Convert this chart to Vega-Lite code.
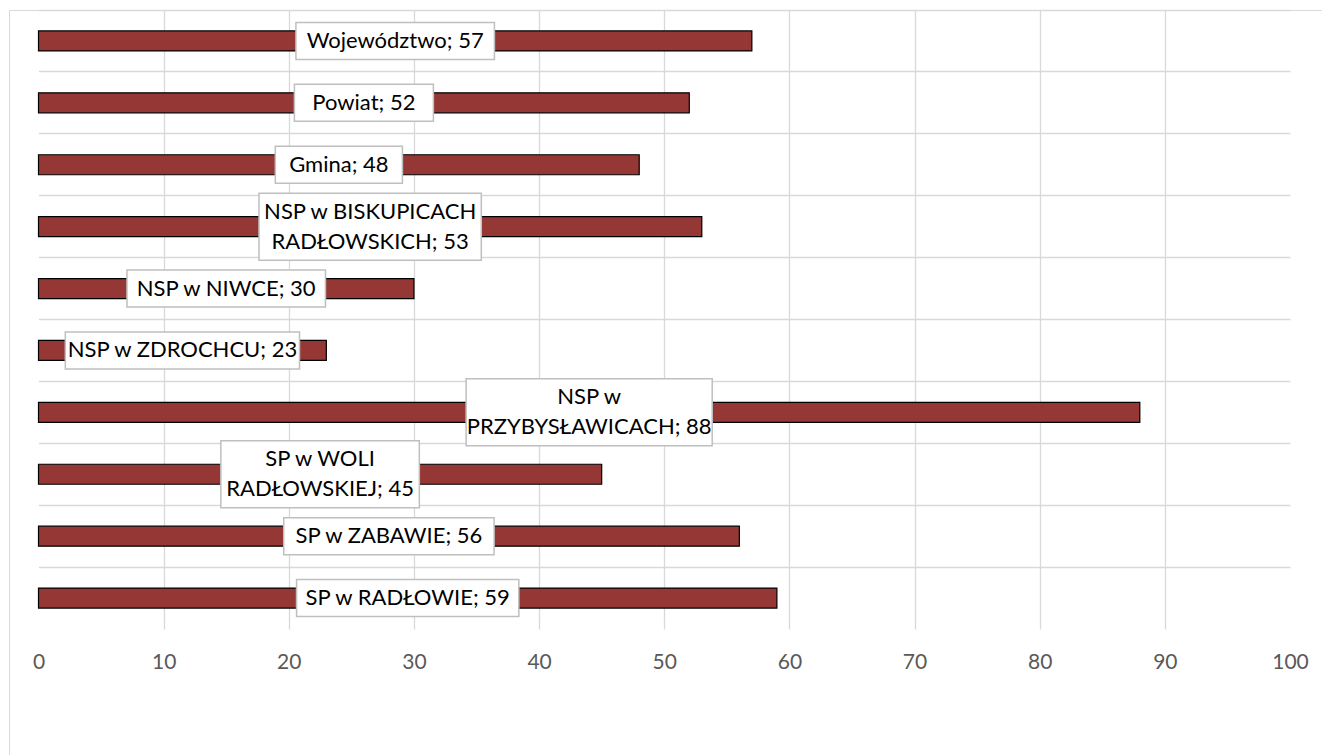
{
  "$schema": "https://vega.github.io/schema/vega-lite/v6.json",
  "width": 1320,
  "height": 760,
  "autosize": {"type": "none"},
  "padding": {"left": 9, "top": 10, "right": 0, "bottom": 0},
  "background": "white",
  "config": {"view": {"stroke": "#d9d9d9", "strokeWidth": 1}, "font": "Lato"},
  "data": {
    "values": [
      {"name": "Województwo", "value": 57},
      {"name": "Powiat", "value": 52},
      {"name": "Gmina", "value": 48},
      {"name": "NSP w BISKUPICACH\nRADŁOWSKICH", "value": 53},
      {"name": "NSP w NIWCE", "value": 30},
      {"name": "NSP w ZDROCHCU", "value": 23},
      {"name": "NSP w\nPRZYBYSŁAWICACH", "value": 88},
      {"name": "SP w WOLI\nRADŁOWSKIEJ", "value": 45},
      {"name": "SP w ZABAWIE", "value": 56},
      {"name": "SP w RADŁOWIE", "value": 59}
    ]
  },
  "transform": [
    {"calculate": "datum.name + '; ' + datum.value", "as": "label"},
    {"calculate": "split(datum.label, '\\n')", "as": "lines"},
    {"calculate": "length(datum.lines)", "as": "nlines"},
    {"calculate": "max(length(datum.lines[0]), datum.nlines > 1 ? length(datum.lines[1]) : 0)", "as": "maxlen"},
    {"calculate": "datum.value / 2", "as": "mid"},
    {"calculate": "datum.value / 2 - (20 + 11.9 * datum.maxlen) / 25.03", "as": "box_lo"},
    {"calculate": "datum.value / 2 + (20 + 11.9 * datum.maxlen) / 25.03", "as": "box_hi"}
  ],
  "encoding": {
    "y": {
      "field": "name",
      "type": "nominal",
      "sort": null,
      "scale": {"range": [0, 619], "paddingInner": 0, "paddingOuter": 0},
      "axis": {
        "orient": "left",
        "grid": true,
        "bandPosition": 0,
        "gridColor": "#d9d9d9",
        "gridWidth": 1.3,
        "domain": false,
        "ticks": false,
        "labels": false,
        "title": null
      }
    }
  },
  "layer": [
    {
      "mark": {"type": "bar", "height": 20, "fill": "#953735", "stroke": "#000000", "strokeWidth": 1.2},
      "encoding": {
        "x": {
          "field": "value",
          "type": "quantitative",
          "scale": {"domain": [0, 100], "range": [29.5, 1281], "nice": false, "zero": true},
          "axis": {
            "orient": "top",
            "values": [10, 20, 30, 40, 50, 60, 70, 80, 90],
            "grid": true,
            "gridColor": "#d9d9d9",
            "gridWidth": 1.3,
            "domain": false,
            "ticks": false,
            "labels": false,
            "title": null
          }
        }
      }
    },
    {
      "transform": [{"filter": "datum.nlines == 1"}],
      "mark": {"type": "bar", "height": 37, "fill": "#ffffff", "stroke": "#bfbfbf", "strokeWidth": 1.5},
      "encoding": {
        "x": {"field": "box_lo", "type": "quantitative", "scale": {"domain": [0, 100], "range": [29.5, 1281], "nice": false}, "axis": null},
        "x2": {"field": "box_hi"}
      }
    },
    {
      "transform": [{"filter": "datum.nlines == 2"}],
      "mark": {"type": "bar", "height": 67, "fill": "#ffffff", "stroke": "#bfbfbf", "strokeWidth": 1.5},
      "encoding": {
        "x": {"field": "box_lo", "type": "quantitative", "scale": {"domain": [0, 100], "range": [29.5, 1281], "nice": false}, "axis": null},
        "x2": {"field": "box_hi"}
      }
    },
    {
      "transform": [{"filter": "datum.nlines == 1"}],
      "mark": {"type": "text", "font": "Lato", "fontSize": 22, "lineBreak": "\n", "lineHeight": 30, "align": "center", "baseline": "middle", "color": "#000000"},
      "encoding": {
        "x": {
          "field": "mid",
          "type": "quantitative",
          "scale": {"domain": [0, 100], "range": [29.5, 1281], "nice": false},
          "axis": {
            "orient": "bottom",
            "offset": -141,
            "values": [0, 10, 20, 30, 40, 50, 60, 70, 80, 90, 100],
            "grid": false,
            "domain": false,
            "ticks": false,
            "labelFont": "Lato",
            "labelFontSize": 21,
            "labelColor": "#595959",
            "labelPadding": 22,
            "labelFlush": false,
            "labelOverlap": false,
            "title": null
          }
        },
        "text": {"field": "label"}
      }
    },
    {
      "transform": [{"filter": "datum.nlines == 2"}],
      "mark": {"type": "text", "font": "Lato", "fontSize": 22, "lineBreak": "\n", "lineHeight": 30, "align": "center", "baseline": "middle", "dy": -15, "color": "#000000"},
      "encoding": {
        "x": {"field": "mid", "type": "quantitative", "scale": {"domain": [0, 100], "range": [29.5, 1281], "nice": false}, "axis": null},
        "text": {"field": "label"}
      }
    }
  ]
}
